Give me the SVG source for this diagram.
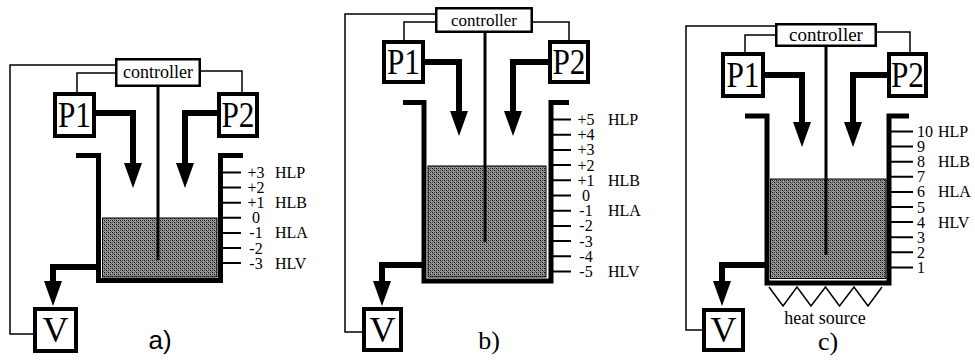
<svg xmlns="http://www.w3.org/2000/svg" width="975" height="363" viewBox="0 0 975 363">
<style>
  .box{fill:#fff;stroke:#000;stroke-width:4}
  .cbox{fill:#fff;stroke:#000;stroke-width:2.5}
  .thin{fill:none;stroke:#000;stroke-width:1.5}
  .thick{fill:none;stroke:#000;stroke-width:6;stroke-linejoin:miter}
  .tank{fill:none;stroke:#000;stroke-width:5;stroke-linejoin:miter}
  .rod{fill:none;stroke:#000;stroke-width:3}
  .tick{fill:none;stroke:#000;stroke-width:2}
  .liq{fill:url(#dither);stroke:#000;stroke-width:1}
  .zig{fill:none;stroke:#000;stroke-width:1.5}
  .serif{font-family:'Liberation Serif','DejaVu Serif',serif;fill:#000}
  .sans{font-family:'Liberation Sans',Arial,sans-serif;fill:#000}
  .ctl{text-anchor:middle}
  .big{text-anchor:middle;font-size:36px}
  .lbl{font-size:16px}
  .num{font-size:16px;text-anchor:middle}
  .cap{font-size:26px;text-anchor:middle}
</style>
<defs>
  <marker id="ah" markerUnits="userSpaceOnUse" viewBox="0 -9 25 18" markerWidth="25" markerHeight="18" refX="0" refY="0" orient="auto">
    <path d="M0,-9 L25,0 L0,9 Z" fill="#000"/>
  </marker>
  <pattern id="dither" width="4" height="4" patternUnits="userSpaceOnUse">
    <rect width="4" height="4" fill="#9a9a9a"/>
    <rect x="0" y="0" width="1" height="1" fill="#000"/>
    <rect x="2" y="2" width="1" height="1" fill="#000"/>
    <rect x="2" y="0" width="1" height="1" fill="#444"/>
    <rect x="0" y="2" width="1" height="1" fill="#444"/>
    <rect x="1" y="1" width="1" height="1" fill="#666"/>
    <rect x="3" y="3" width="1" height="1" fill="#666"/>
  </pattern>
</defs>
<rect width="975" height="363" fill="#fff"/>

<!-- ===== Panel a ===== -->
<g id="tank-a">
  <rect class="liq" x="102.5" y="218" width="114.5" height="59"/>
  <path class="tank" d="M76,155.5 H98.5 V280.5 H220.5 V155.5 H243"/>
  <path class="tick" d="M221,172.5 H241 M221,187.6 H241 M221,202.7 H241 M221,217.8 H241 M221,232.9 H241 M221,248 H241 M221,263.1 H241"/>
  <text class="serif num" x="256" y="178">+3</text>
  <text class="serif num" x="256" y="193.1">+2</text>
  <text class="serif num" x="256" y="208.2">+1</text>
  <text class="serif num" x="256" y="223.3">0</text>
  <text class="serif num" x="256" y="238.4">-1</text>
  <text class="serif num" x="256" y="253.5">-2</text>
  <text class="serif num" x="256" y="268.6">-3</text>
  <text class="serif lbl" x="275" y="178">HLP</text>
  <text class="serif lbl" x="275" y="208.2">HLB</text>
  <text class="serif lbl" x="275" y="238.4">HLA</text>
  <text class="serif lbl" x="275" y="268.6">HLV</text>
</g>
<g id="controller-a">
  <rect class="cbox" x="116.25" y="59.25" width="83.5" height="26.5"/>
  <text class="serif ctl" x="158" y="78" font-size="18">controller</text>
</g>
<g id="P1-a">
  <rect class="box" x="55" y="94" width="39" height="42"/>
  <text class="serif big" x="74.5" y="127" textLength="33" lengthAdjust="spacingAndGlyphs">P1</text>
</g>
<g id="P2-a">
  <rect class="box" x="219" y="94" width="38" height="42"/>
  <text class="serif big" x="238" y="127" textLength="33" lengthAdjust="spacingAndGlyphs">P2</text>
</g>
<g id="V-a">
  <rect class="box" x="35" y="309" width="41" height="42"/>
  <text class="serif big" x="55.5" y="342" font-size="34">V</text>
</g>
<text class="sans cap" x="160" y="349">a)</text>

<!-- ===== Panel b ===== -->
<g id="tank-b">
  <rect class="liq" x="428" y="166" width="118" height="111"/>
  <path class="tank" d="M403,102.5 H424 V281 H551 V102.5 H569"/>
  <path class="tick" d="M552,119.5 H571 M552,134.7 H571 M552,149.9 H571 M552,165.1 H571 M552,180.3 H571 M552,195.5 H571 M552,210.7 H571 M552,225.9 H571 M552,241.1 H571 M552,256.3 H571 M552,271.5 H571"/>
  <text class="serif num" x="586" y="125">+5</text>
  <text class="serif num" x="586" y="140.2">+4</text>
  <text class="serif num" x="586" y="155.4">+3</text>
  <text class="serif num" x="586" y="170.6">+2</text>
  <text class="serif num" x="586" y="185.8">+1</text>
  <text class="serif num" x="586" y="201">0</text>
  <text class="serif num" x="586" y="216.2">-1</text>
  <text class="serif num" x="586" y="231.4">-2</text>
  <text class="serif num" x="586" y="246.6">-3</text>
  <text class="serif num" x="586" y="261.8">-4</text>
  <text class="serif num" x="586" y="277">-5</text>
  <text class="serif lbl" x="608" y="125">HLP</text>
  <text class="serif lbl" x="608" y="185.8">HLB</text>
  <text class="serif lbl" x="608" y="216.2">HLA</text>
  <text class="serif lbl" x="608" y="277">HLV</text>
</g>
<g id="controller-b">
  <rect class="cbox" x="436.25" y="8.25" width="95.5" height="23.5"/>
  <text class="serif ctl" x="484" y="26" font-size="17">controller</text>
</g>
<g id="P1-b">
  <rect class="box" x="384" y="42" width="39" height="40"/>
  <text class="serif big" x="403.5" y="74" textLength="33" lengthAdjust="spacingAndGlyphs">P1</text>
</g>
<g id="P2-b">
  <rect class="box" x="550" y="42" width="38" height="40"/>
  <text class="serif big" x="569" y="74" textLength="33" lengthAdjust="spacingAndGlyphs">P2</text>
</g>
<g id="V-b">
  <rect class="box" x="364" y="309" width="37" height="41"/>
  <text class="serif big" x="382.5" y="342" font-size="34">V</text>
</g>
<text class="serif cap" x="489" y="349">b)</text>

<!-- ===== Panel c ===== -->
<g id="tank-c">
  <rect class="liq" x="770.5" y="179" width="115.5" height="99.5"/>
  <path class="tank" d="M745,116 H767 V283 H889 V116 H909"/>
  <path class="tick" d="M890,131.5 H913 M890,146.6 H913 M890,161.7 H913 M890,176.8 H913 M890,191.9 H913 M890,207 H913 M890,222.1 H913 M890,237.2 H913 M890,252.3 H913 M890,267.4 H913"/>
  <text class="serif lbl" x="917" y="137">10</text>
  <text class="serif lbl" x="917" y="152.1">9</text>
  <text class="serif lbl" x="917" y="167.2">8</text>
  <text class="serif lbl" x="917" y="182.3">7</text>
  <text class="serif lbl" x="917" y="197.4">6</text>
  <text class="serif lbl" x="917" y="212.5">5</text>
  <text class="serif lbl" x="917" y="227.6">4</text>
  <text class="serif lbl" x="917" y="242.7">3</text>
  <text class="serif lbl" x="917" y="257.8">2</text>
  <text class="serif lbl" x="917" y="272.9">1</text>
  <text class="serif lbl" x="938" y="137">HLP</text>
  <text class="serif lbl" x="938" y="167.2">HLB</text>
  <text class="serif lbl" x="938" y="197.4">HLA</text>
  <text class="serif lbl" x="938" y="227.6">HLV</text>
</g>
<g id="heat-source-c">
  <path class="zig" d="M769,287 L783,306 L797,287 L811,306 L825.5,287 L839.5,306 L854,287 L868,306 L882,287"/>
  <text class="serif" x="825" y="324" font-size="18" text-anchor="middle">heat source</text>
</g>
<g id="controller-c">
  <rect class="cbox" x="776.25" y="24.25" width="99.5" height="21.5"/>
  <text class="serif ctl" x="826" y="41" font-size="19">controller</text>
</g>
<g id="P1-c">
  <rect class="box" x="723" y="54" width="40" height="42"/>
  <text class="serif big" x="743" y="87" textLength="33" lengthAdjust="spacingAndGlyphs">P1</text>
</g>
<g id="P2-c">
  <rect class="box" x="889" y="54" width="37" height="42"/>
  <text class="serif big" x="907.5" y="87" textLength="33" lengthAdjust="spacingAndGlyphs">P2</text>
</g>
<g id="V-c">
  <rect class="box" x="704" y="310" width="39" height="40"/>
  <text class="serif big" x="723.5" y="342" font-size="34">V</text>
</g>
<text class="serif cap" x="828" y="350">c)</text>

<!-- ===== Connectors ===== -->
<g id="connectors">
  <path class="thin" d="M115,65 H10 V334 H33"/>
  <path class="thin" d="M115,73 H77 V92"/>
  <path class="thin" d="M201,71 H242 V92"/>
  <path class="thick" d="M96,113 H133 V163" marker-end="url(#ah)"/>
  <path class="thick" d="M217,113 H185 V163" marker-end="url(#ah)"/>
  <path class="thick" d="M96,267 H53 V281" marker-end="url(#ah)"/>
  <path class="rod" d="M158,87 V260"/>
  <path class="thin" d="M435,14 H345 V332 H362"/>
  <path class="thin" d="M435,22 H404 V40"/>
  <path class="thin" d="M533,22 H569 V40"/>
  <path class="thick" d="M425,62 H459 V111" marker-end="url(#ah)"/>
  <path class="thick" d="M548,62 H513 V111" marker-end="url(#ah)"/>
  <path class="thick" d="M422,265 H382 V281" marker-end="url(#ah)"/>
  <path class="rod" d="M485,33 V242"/>
  <path class="thin" d="M775,26 H686 V330 H702"/>
  <path class="thin" d="M775,35 H745 V52"/>
  <path class="thin" d="M877,32 H910 V52"/>
  <path class="thick" d="M765,75 H802 V122" marker-end="url(#ah)"/>
  <path class="thick" d="M887,75 H853 V122" marker-end="url(#ah)"/>
  <path class="thick" d="M765,265 H722 V281" marker-end="url(#ah)"/>
  <path class="rod" d="M826,47 V255"/>
</g>
</svg>
